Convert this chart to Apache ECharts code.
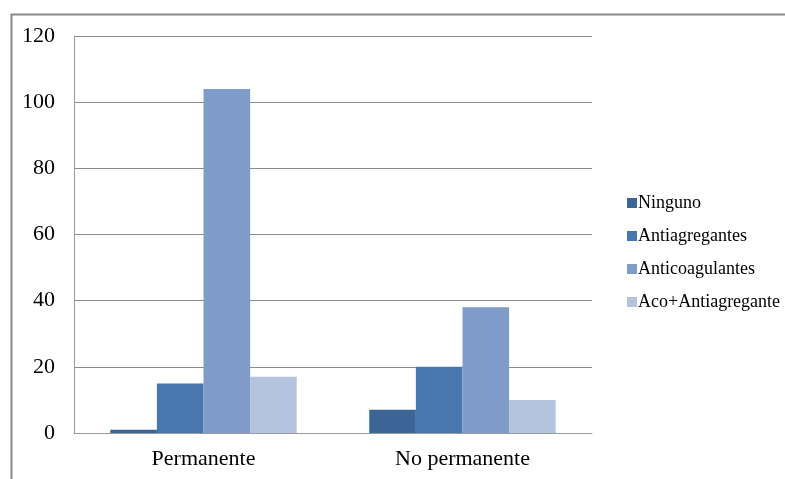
<!DOCTYPE html>
<html>
<head>
<meta charset="utf-8">
<script src="https://cdn.jsdelivr.net/npm/echarts@6/dist/echarts.min.js"></script>
<style>
  html, body { margin: 0; padding: 0; background: #fff; }
  #chart { width: 785px; height: 479px; }
</style>
</head>
<body>
<div id="chart"></div>
<script>
// Treatment groups by type of fibrillation
const categories = ['Permanente', 'No permanente'];
const seriesNames = ['Ninguno', 'Antiagregantes', 'Anticoagulantes', 'Aco+Antiagregante'];
const ninguno = [1, 7];
const antiagregantes = [15, 20];
const anticoagulantes = [104, 38];
const acoAntiagregante = [17, 10];
const yTicks = [0, 20, 40, 60, 80, 100, 120];

const values = [ninguno, antiagregantes, anticoagulantes, acoAntiagregante];
const colors = ['#3B6497', '#4877AF', '#7E9CC7', '#B4C4DE'];
const serif = 'Liberation Serif, Times New Roman, serif';

const chart = echarts.init(document.getElementById('chart'));
chart.setOption({
  animation: false,
  backgroundColor: '#fff',
  textStyle: { fontFamily: serif },
  graphic: [{
    type: 'rect',
    left: 9, top: 12,
    shape: { width: 800, height: 500 },
    style: { fill: 'none', stroke: '#8a8a8a', lineWidth: 2 },
    silent: true
  }],
  grid: { left: 74, right: 193, top: 36, bottom: 46, containLabel: false },
  legend: {
    orient: 'vertical',
    left: 622, top: 189,
    itemWidth: 10, itemHeight: 10, itemGap: 15,
    icon: 'rect',
    textStyle: { fontFamily: serif, fontSize: 18, color: '#000', padding: [0, 0, 0, -4] },
    data: seriesNames
  },
  xAxis: {
    type: 'category',
    data: categories,
    axisLine: { lineStyle: { color: '#9a9a9a', width: 1 } },
    axisTick: { show: false },
    axisLabel: { fontFamily: serif, fontSize: 22, color: '#000', margin: 15 }
  },
  yAxis: {
    type: 'value',
    min: yTicks[0], max: yTicks[yTicks.length - 1], interval: 20,
    axisLine: { show: true, lineStyle: { color: '#9a9a9a', width: 1 } },
    axisTick: { show: false },
    splitLine: { lineStyle: { color: '#8c8c8c', width: 1 } },
    axisLabel: { fontFamily: serif, fontSize: 22, color: '#000', margin: 19 }
  },
  series: seriesNames.map((name, i) => ({
    name,
    type: 'bar',
    data: values[i],
    barGap: '0%',
    barCategoryGap: '28%',
    itemStyle: { color: colors[i] }
  }))
});
</script>
</body>
</html>
